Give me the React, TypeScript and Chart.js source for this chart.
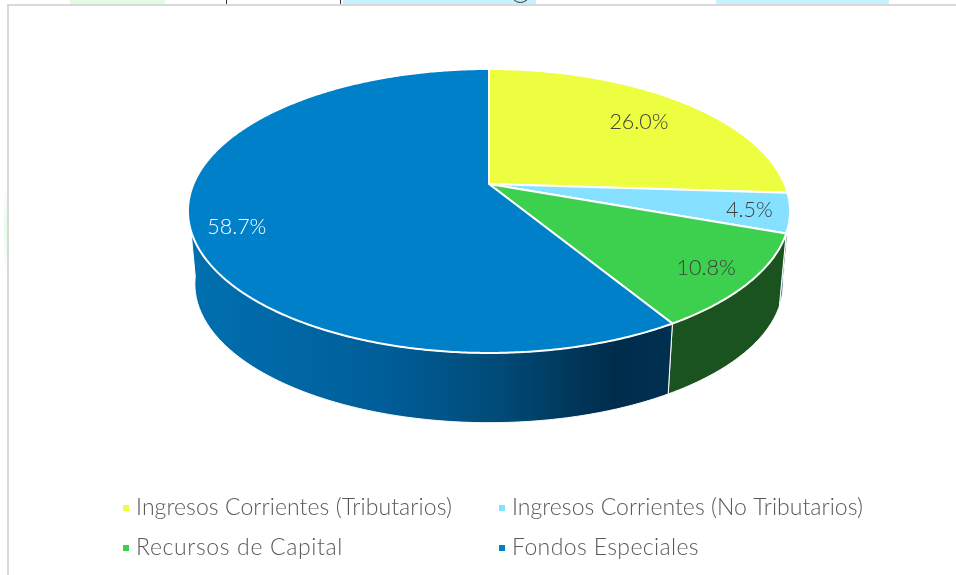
import React, { useEffect, useRef } from "react";
import { Chart, registerables } from "chart.js";

Chart.register(...registerables);

const categories = [
  "Ingresos Corrientes (Tributarios)",
  "Ingresos Corrientes (No Tributarios)",
  "Recursos de Capital",
  "Fondos Especiales",
];
const values = [26.0, 4.5, 10.8, 58.7];
const topColors = ["#EDFD3F", "#85E1FF", "#3DD04E", "#0080C8"];
const wallColors = ["#6f7a1e", "#3f6f80", "#1A5320", "#0070B0"];
const labelColors = ["#404040", "#404040", "#404040", "#FFFFFF"];
const labelRadius = [0.745, 0.87, 0.857, 0.858];
const labelAngleShift = [1.4, 0.5, 0.6, -4.5];
const legendX = [123, 499];
const legendY = [508, 548];
const legendWidths = [316, 351, 207, 187];

const FONT = "Lato";
const PERSP = -0.19;
const YK = 1.19;
const XK = 2.57;
const CENTER_OFF = 27 / 115;
const DEPTH = 73 / 115;
const BOTTOM_SCALE = 0.977;

function project(arc: any, theta: number, r = 1) {
  const u = Math.sin(theta) * r;
  const v = -Math.cos(theta) * r;
  const den = 1 + PERSP * v;
  return {
    x: arc.x + (XK * arc.outerRadius * u) / den,
    y: arc.y + (YK * arc.outerRadius * v) / den,
  };
}

function projectBottom(arc: any, theta: number) {
  const p = project(arc, theta);
  const R = arc.outerRadius;
  const cy = arc.y + CENTER_OFF * R;
  return {
    x: arc.x + (p.x - arc.x) * BOTTOM_SCALE,
    y: cy + DEPTH * R + (p.y - cy) * BOTTOM_SCALE,
  };
}

const STEP = Math.PI / 360;
const VIS_A = (100 * Math.PI) / 180;
const VIS_B = (262 * Math.PI) / 180;

const pie3d = {
  id: "pie3d",
  beforeDraw(chart: any) {
    const ctx = chart.ctx;
    ctx.save();
    ctx.fillStyle = "#ffffff";
    ctx.fillRect(0, 0, 956, 575);
    ctx.fillStyle = "#E2FBE4";
    ctx.fillRect(70, 0, 95, 4);
    ctx.fillStyle = "#C8F1FF";
    ctx.fillRect(343, 0, 193, 4);
    ctx.fillRect(716, 0, 173, 4);
    ctx.fillStyle = "#333333";
    ctx.fillRect(226, 0, 1, 4);
    ctx.fillRect(340, 0, 1, 4);
    ctx.strokeStyle = "#333333";
    ctx.lineWidth = 1;
    ctx.beginPath();
    ctx.moveTo(514, 0);
    ctx.quadraticCurveTo(520, 5, 527, 0);
    ctx.stroke();
    const glow = ctx.createLinearGradient(0, 185, 0, 275);
    glow.addColorStop(0, "#ffffff");
    glow.addColorStop(0.5, "#E6FBE8");
    glow.addColorStop(1, "#ffffff");
    ctx.fillStyle = glow;
    ctx.fillRect(4, 185, 3, 90);
    ctx.fillStyle = "#D9D9D9";
    ctx.fillRect(7, 4, 949, 2);
    ctx.fillRect(7, 4, 2, 571);
    ctx.restore();
  },
  beforeDatasetsDraw(chart: any) {
    const ctx = chart.ctx;
    const arcs = chart.getDatasetMeta(0).data;
    const colors = chart.data.datasets[0].backgroundColor;
    ctx.save();
    ctx.lineJoin = "round";
    arcs.forEach((arc: any, i: number) => {
      const a = Math.max(arc.startAngle + Math.PI / 2, VIS_A);
      const b = Math.min(arc.endAngle + Math.PI / 2, VIS_B);
      if (b <= a) return;
      const top: any[] = [];
      const bot: any[] = [];
      for (let t = a; t < b; t += STEP) {
        top.push(project(arc, t));
        bot.push(projectBottom(arc, t));
      }
      top.push(project(arc, b));
      bot.push(projectBottom(arc, b));
      ctx.beginPath();
      top.forEach((p, k) => (k ? ctx.lineTo(p.x, p.y) : ctx.moveTo(p.x, p.y)));
      bot.reverse().forEach((p) => ctx.lineTo(p.x, p.y));
      ctx.closePath();
      if (i === 3) {
        const g = ctx.createLinearGradient(190, 0, 672, 0);
        g.addColorStop(0, "#0070B0");
        g.addColorStop(0.4, "#005E99");
        g.addColorStop(0.65, "#004A75");
        g.addColorStop(0.88, "#002C4C");
        g.addColorStop(1, "#003050");
        ctx.fillStyle = g;
      } else {
        ctx.fillStyle = wallColors[i];
      }
      ctx.fill();
      ctx.strokeStyle = "#ffffff";
      ctx.lineWidth = 1;
      ctx.stroke();
    });
    arcs.forEach((arc: any, i: number) => {
      const a = arc.startAngle + Math.PI / 2;
      const b = arc.endAngle + Math.PI / 2;
      ctx.beginPath();
      ctx.moveTo(arc.x, arc.y);
      for (let t = a; t < b; t += STEP) {
        const p = project(arc, t);
        ctx.lineTo(p.x, p.y);
      }
      const e = project(arc, b);
      ctx.lineTo(e.x, e.y);
      ctx.closePath();
      ctx.fillStyle = colors[i];
      ctx.fill();
      ctx.strokeStyle = "#ffffff";
      ctx.lineWidth = 2;
      ctx.stroke();
    });
    ctx.font = `300 21.5px ${FONT}`;
    ctx.textAlign = "center";
    ctx.textBaseline = "middle";
    const data = chart.data.datasets[0].data;
    arcs.forEach((arc: any, i: number) => {
      const mid = (arc.startAngle + arc.endAngle) / 2 + Math.PI / 2 + (labelAngleShift[i] * Math.PI) / 180;
      const p = project(arc, mid, labelRadius[i]);
      ctx.fillStyle = labelColors[i];
      ctx.fillText(`${data[i].toFixed(1)}%`, p.x, p.y);
    });
    categories.forEach((name, i) => {
      const x = legendX[i % 2];
      const y = legendY[Math.floor(i / 2)];
      ctx.fillStyle = colors[i];
      ctx.fillRect(x, y - 3, 6, 6);
      ctx.fillStyle = "#595959";
      ctx.textAlign = "left";
      ctx.font = `300 23px ${FONT}`;
      ctx.letterSpacing = "0px";
      const w = ctx.measureText(name).width;
      ctx.letterSpacing = `${(legendWidths[i] - w) / name.length}px`;
      ctx.fillText(name, x + 13, y);
      ctx.letterSpacing = "0px";
    });
    ctx.restore();
    return false;
  },
};

export default function App() {
  const ref = useRef<HTMLCanvasElement | null>(null);
  useEffect(() => {
    const chart = new Chart(ref.current as HTMLCanvasElement, {
      type: "pie",
      data: {
        labels: categories,
        datasets: [{ data: values, backgroundColor: topColors, borderWidth: 0 }],
      },
      options: {
        responsive: false,
        animation: false,
        layout: { padding: { left: 374, right: 352, top: 69, bottom: 276 } },
        plugins: { legend: { display: false }, tooltip: { enabled: false } },
      },
      plugins: [pie3d],
    } as any);
    return () => chart.destroy();
  }, []);
  return (
    <canvas
      ref={ref}
      width={956}
      height={575}
      style={{ position: "absolute", left: 0, top: 0, width: 956, height: 575 }}
    />
  );
}
